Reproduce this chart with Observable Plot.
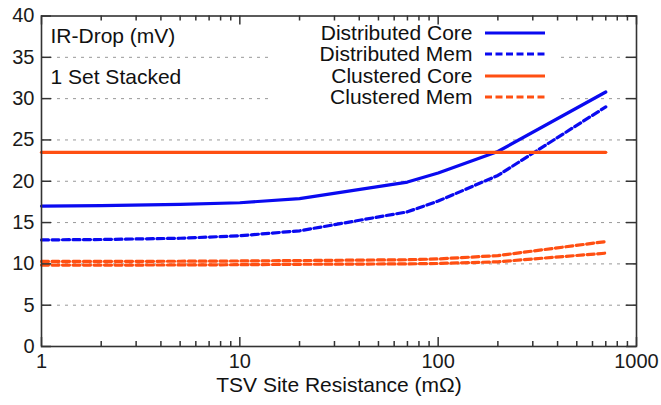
<!DOCTYPE html>
<html><head><meta charset="utf-8">
<script src="https://cdn.jsdelivr.net/npm/d3@7"></script>
<script src="https://cdn.jsdelivr.net/npm/@observablehq/plot@0.6"></script>
<style>body{margin:0;background:#fff;}</style>
</head><body><div id="chart"></div>
<script>
// ---- data ----
const resistance      = [1, 2, 5, 10, 20, 70, 100, 200, 700];
const distributedCore = [17.0, 17.05, 17.2, 17.4, 17.9, 19.9, 21.0, 23.6, 30.8];
const distributedMem  = [12.9, 12.95, 13.1, 13.4, 14.0, 16.3, 17.6, 20.7, 29.0];
const clusteredCore   = [23.5, 23.5, 23.5, 23.5, 23.5, 23.5, 23.5, 23.5, 23.5];
const clusteredMemA   = [10.3, 10.3, 10.32, 10.35, 10.4, 10.5, 10.6, 11.0, 12.7];
const clusteredMemB   = [9.85, 9.85, 9.87, 9.9, 9.95, 10.0, 10.05, 10.25, 11.3];
const seriesNames = ["Distributed Core", "Distributed Mem", "Clustered Core", "Clustered Mem"];
const annotations = ["IR-Drop (mV)", "1 Set Stacked"];
const xLabel = "TSV Site Resistance (m\u03A9)";
const yTicks = [0, 5, 10, 15, 20, 25, 30, 35, 40];
const xTicks = [1, 10, 100, 1000];
const xMinorTicks = [2,3,4,5,6,7,8,9,20,30,40,50,60,70,80,90,200,300,400,500,600,700,800,900];

// ---- styles ----
const BLUE = "#0a0af0", ORANGE = "#ff4f12";
const DASH = "7,3.5";
const styles = [
  {stroke: BLUE, dash: null},
  {stroke: BLUE, dash: DASH},
  {stroke: ORANGE, dash: null},
  {stroke: ORANGE, dash: DASH}
];

const W = 661, H = 405, mL = 41, mR = 25, mT = 15.5, mB = 59;
const plotW = W - mL - mR, plotH = H - mT - mB;
const FONT = "'Liberation Sans', Arial, Helvetica, sans-serif";
const AXIS = "#333";
const TXT = 21;
const rowDy = [17.5, 38.5, 60.5, 81.5];

const mk = (ys) => resistance.map((x, i) => ({x, y: ys[i]}));
const lineMark = (ys, st) => Plot.line(mk(ys), {x: "x", y: "y", stroke: st.stroke, strokeWidth: 3.2,
  strokeDasharray: st.dash || undefined, strokeLinejoin: "round"});

const legendLabels = seriesNames.map((name, i) =>
  Plot.text([name], {text: d => d, frameAnchor: "top-left", textAnchor: "end", dx: 431, dy: rowDy[i],
    lineAnchor: "middle", fontSize: TXT, fill: "#111"}));

const plot = Plot.plot({
  width: W, height: H, marginLeft: mL, marginRight: mR, marginTop: mT, marginBottom: mB,
  x: {type: "log", domain: [1, 1000]},
  y: {domain: [0, 40]},
  style: {fontFamily: FONT, fontSize: "20px", color: "#1a1a1a", background: "#fff", overflow: "visible"},
  marks: [
    Plot.ruleY(yTicks.slice(1, -1), {stroke: "#999", strokeWidth: 1, strokeDasharray: "3,5"}),
    lineMark(clusteredMemB, styles[3]),
    lineMark(clusteredMemA, styles[3]),
    lineMark(distributedMem, styles[1]),
    lineMark(distributedCore, styles[0]),
    lineMark(clusteredCore, styles[2]),
    // inward ticks
    Plot.tickX(xTicks, {x: d => d, insetTop: plotH - 9, stroke: AXIS, strokeWidth: 1.5}),
    Plot.tickX(xTicks, {x: d => d, insetBottom: plotH - 9, stroke: AXIS, strokeWidth: 1.5}),
    Plot.tickX(xMinorTicks, {x: d => d, insetTop: plotH - 5, stroke: AXIS, strokeWidth: 1.5}),
    Plot.tickX(xMinorTicks, {x: d => d, insetBottom: plotH - 5, stroke: AXIS, strokeWidth: 1.5}),
    Plot.tickY(yTicks, {y: d => d, insetRight: plotW - 10, stroke: AXIS, strokeWidth: 1.5}),
    Plot.tickY(yTicks, {y: d => d, insetLeft: plotW - 10, stroke: AXIS, strokeWidth: 1.5}),
    Plot.axisX(xTicks, {tickSize: 0, tickPadding: 7, tickFormat: d => String(d), fontSize: 20, label: null}),
    Plot.axisY(yTicks, {tickSize: 0, tickPadding: 7, tickFormat: d => String(d), fontSize: 20, label: null}),
    Plot.text([xLabel], {text: d => d, frameAnchor: "bottom", dy: 39, lineAnchor: "middle", fontSize: TXT, fill: "#111"}),
    Plot.text([annotations[0]], {text: d => d, frameAnchor: "top-left", textAnchor: "start", dx: 9, dy: 20.5, lineAnchor: "middle", fontSize: TXT, fill: "#111"}),
    Plot.text([annotations[1]], {text: d => d, frameAnchor: "top-left", textAnchor: "start", dx: 9, dy: 61, lineAnchor: "middle", fontSize: TXT, fill: "#111"}),
    ...legendLabels,
    Plot.frame({stroke: AXIS, strokeWidth: 1.6})
  ]
});

document.getElementById("chart").appendChild(plot);

// ---- post-render: legend key box & samples (layout only) ----
const svg = d3.select(plot);
const gridG = plot.querySelector("g[aria-label=rule]");
const box = document.createElementNS("http://www.w3.org/2000/svg", "rect");
box.setAttribute("x", 270); box.setAttribute("y", mT + 2);
box.setAttribute("width", 557 - 270); box.setAttribute("height", 107 - mT - 2);
box.setAttribute("fill", "#fff");
gridG.after(box);
const key = svg.append("g");
styles.forEach((st, i) => {
  key.append("line")
    .attr("x1", 485).attr("x2", 545)
    .attr("y1", mT + rowDy[i]).attr("y2", mT + rowDy[i])
    .attr("stroke", st.stroke).attr("stroke-width", 3.2)
    .attr("stroke-dasharray", st.dash);
});
</script>
</body></html>
